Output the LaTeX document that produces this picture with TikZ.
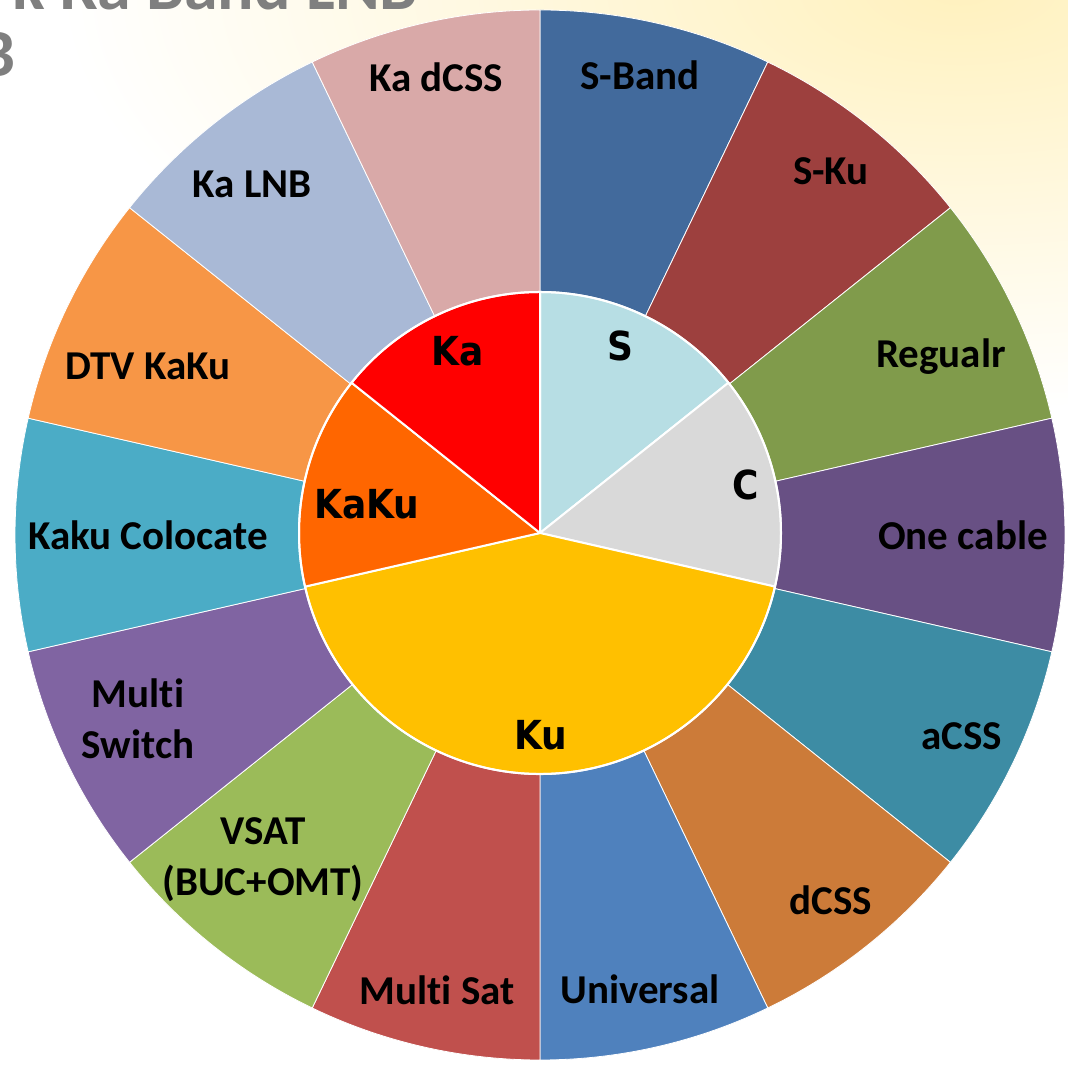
\documentclass[tikz,border=0pt]{standalone}
\usepackage{fontspec}
\setmainfont{Carlito}
\newfontfamily\outerfont{Carlito}[Ligatures=NoCommon]
\newfontfamily\innerfont{DejaVu Sans}[FakeStretch=0.9]
\definecolor{glowc}{RGB}{255,241,190}
\definecolor{titlegray}{RGB}{127,127,127}
\definecolor{cSBand}{RGB}{66,106,156}
\definecolor{cSKu}{RGB}{157,64,62}
\definecolor{cRegualr}{RGB}{128,155,75}
\definecolor{cOneCable}{RGB}{104,80,132}
\definecolor{cACSS}{RGB}{61,140,164}
\definecolor{cDCSS}{RGB}{204,123,57}
\definecolor{cUniversal}{RGB}{79,129,189}
\definecolor{cMultiSat}{RGB}{192,80,77}
\definecolor{cVSAT}{RGB}{155,187,89}
\definecolor{cMultiSwitch}{RGB}{128,100,162}
\definecolor{cKakuColo}{RGB}{75,172,198}
\definecolor{cDTV}{RGB}{247,150,70}
\definecolor{cKaLNB}{RGB}{169,185,214}
\definecolor{cKaDCSS}{RGB}{217,169,168}
\definecolor{iS}{RGB}{183,222,228}
\definecolor{iC}{RGB}{217,217,217}
\definecolor{iKu}{RGB}{255,192,0}
\definecolor{iKaKu}{RGB}{255,102,0}
\definecolor{iKa}{RGB}{255,0,0}
\begin{document}
\begin{tikzpicture}[x=1pt,y=1pt,
  outerlab/.style={font={\outerfont\bfseries\fontsize{41}{51}\selectfont}, text=black, inner sep=0pt, anchor=base, align=center},
  innerlab/.style={font={\innerfont\bfseries\fontsize{40}{46}\selectfont}, text=black, inner sep=0pt, anchor=base},
  titlelab/.style={font={\outerfont\bfseries\fontsize{68}{80}\selectfont}, text=titlegray, inner sep=0pt, anchor=base east},
  outerseg/.style={draw=white, line width=0.8pt},
  innerseg/.style={draw=white, line width=2pt, line join=round}]
\useasboundingbox (0,0) rectangle (1068,1065);
\begin{scope}
  \clip (0,0) rectangle (1068,1065);
  \shade[inner color=glowc, outer color=white] (960,1075) ellipse [x radius=900, y radius=420];
  \node[titlelab] (title1) at (418,1055) {k Ka Band LNB};
  \node[titlelab] (title2) at (16,988) {B};
\end{scope}
\coordinate (O) at (540,530);
\coordinate (I) at (540,532);
% outer ring
\foreach \c [count=\i from 0] in {cSBand,cSKu,cRegualr,cOneCable,cACSS,cDCSS,cUniversal,cMultiSat,cVSAT,cMultiSwitch,cKakuColo,cDTV,cKaLNB,cKaDCSS}{
  \pgfmathsetmacro\a{90-\i*360/14}
  \pgfmathsetmacro\b{90-(\i+1)*360/14}
  \path[outerseg, fill=\c] (O) -- ++(\a:525) arc[start angle=\a, end angle=\b, radius=525] -- cycle;
}
% inner pie
\path[innerseg, fill=iS] (I) -- ++(90:241) arc[start angle=90, end angle=38.5714, radius=241] -- cycle;
\path[innerseg, fill=iC] (I) -- ++(38.5714:241) arc[start angle=38.5714, end angle=-12.8571, radius=241] -- cycle;
\path[innerseg, fill=iKu] (I) -- ++(-12.8571:241) arc[start angle=-12.8571, end angle=-167.1429, radius=241] -- cycle;
\path[innerseg, fill=iKaKu] (I) -- ++(192.8571:241) arc[start angle=192.8571, end angle=141.4286, radius=241] -- cycle;
\path[innerseg, fill=iKa] (I) -- ++(141.4286:241) arc[start angle=141.4286, end angle=90, radius=241] -- cycle;
\draw[white, line width=2pt] (I) circle[radius=241];
% outer labels
\node[outerlab] (lSBand) at (640,975) {S-Band};
\node[outerlab] (lSKu) at (831,880) {S-Ku};
\node[outerlab] (lRegualr) at (941,697) {Regualr};
\node[outerlab] (lOneCable) at (963,515) {One cable};
\node[outerlab] (lACSS) at (962,315) {aCSS};
\node[outerlab] (lDCSS) at (831,150) {dCSS};
\node[outerlab] (lUniversal) at (640,61) {Universal};
\node[outerlab] (lMultiSat) at (437,60) {Multi Sat};
\node[outerlab] (lVSAT) at (263,169) {VSAT\\(BUC+OMT)};
\node[outerlab] (lMultiSwitch) at (138,306) {Multi\\Switch};
\node[outerlab] (lKakuColo) at (148,515) {Kaku Colocate};
\node[outerlab] (lDTV) at (148,685) {DTV KaKu};
\node[outerlab] (lKaLNB) at (252,867) {Ka LNB};
\node[outerlab] (lKaDCSS) at (436,973) {Ka dCSS};
% inner labels
\node[innerlab] (lKa) at (457.5,699) {Ka};
\node[innerlab] (lS) at (620.5,704) {S};
\node[innerlab] (lC) at (745.5,565) {C};
\node[innerlab] (lKaKu) at (367,546) {KaKu};
\node[innerlab] (lKu) at (541,315) {Ku};
\end{tikzpicture}
\end{document}
